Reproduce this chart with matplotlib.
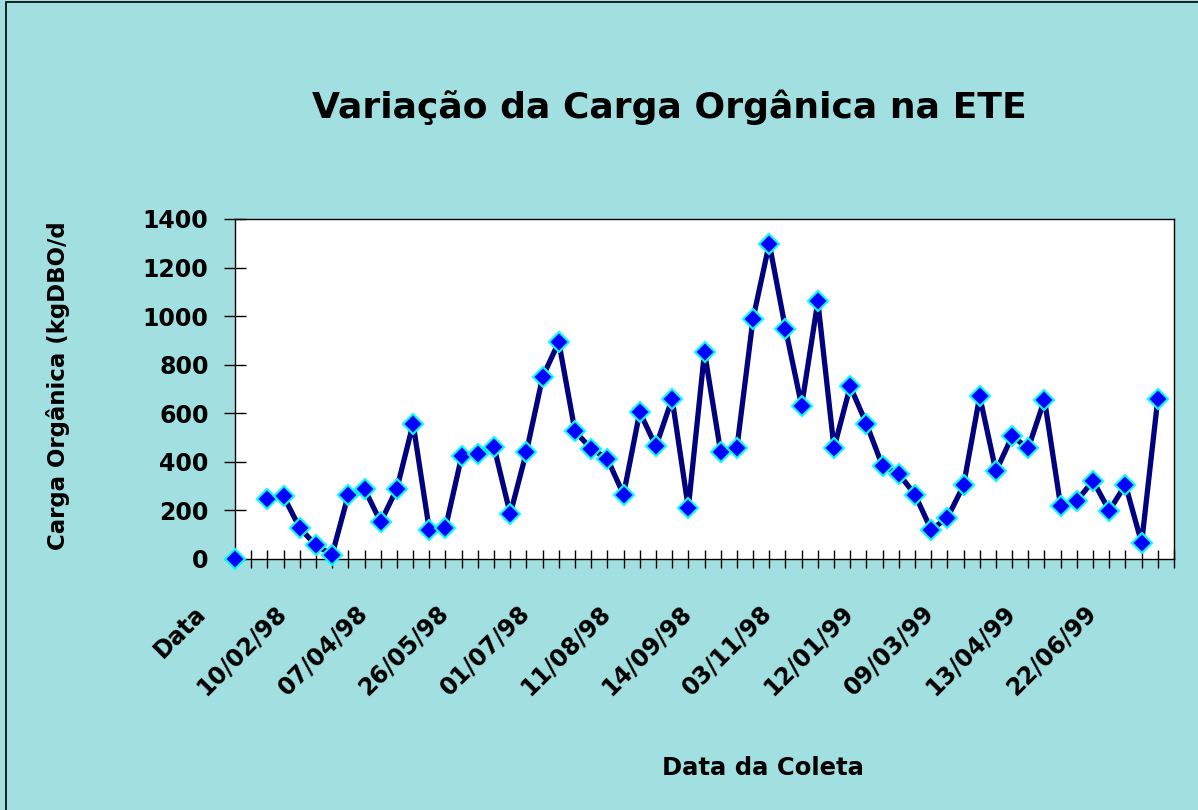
import numpy as np
import matplotlib
matplotlib.use("Agg")
import matplotlib.pyplot as plt
import matplotlib.transforms as mtransforms
from matplotlib.patches import Rectangle

# category position of each sample; slot 1 is empty, so the line breaks there
posicoes = list(range(58))
carga = [0, np.nan, 247, 258, 128, 56, 18, 265, 288, 152, 290, 557, 121, 128, 423,
         434, 461, 185, 441, 749, 894, 526, 454, 413, 265, 605, 464, 660, 210, 852,
         441, 457, 990, 1299, 949, 631, 1061, 457, 711, 557, 382, 351, 265, 121, 169,
         303, 670, 361, 505, 457, 656, 217, 240, 322, 199, 306, 66, 660]

rotulos = ['Data', '10/02/98', '07/04/98', '26/05/98', '01/07/98', '11/08/98',
           '14/09/98', '03/11/98', '12/01/99', '09/03/99', '13/04/99', '22/06/99']
n_cat = 59
passo_rotulo = 5
yticks = [0, 200, 400, 600, 800, 1000, 1200, 1400]

fundo = '#a2dfe0'
W, H = 1198, 810

fig = plt.figure(figsize=(W / 100, H / 100), dpi=100)
fig.patch.set_facecolor(fundo)
# outer frame: only left and top edges show in the original
fig.patches.append(Rectangle((6 / W, -0.1), 1.2, 1.1 - 2 / H, transform=fig.transFigure,
                             fill=False, edgecolor='black', linewidth=1.2))

ax = fig.add_axes([235 / W, 1 - 559 / H, (1174 - 235) / W, (559 - 219) / H])
ax.set_facecolor('white')

ax.plot(posicoes, carga, color='#000080', linewidth=3.8, marker='D',
        markersize=10.5, markerfacecolor='#0000ff', markeredgecolor='#00ffff',
        markeredgewidth=1.5, clip_on=False, zorder=5)

ax.set_xlim(0, n_cat - 1)
ax.set_ylim(0, 1400)

ax.set_xticks(range(n_cat))
labs = [''] * n_cat
for i, r in enumerate(rotulos):
    labs[i * passo_rotulo] = r
ax.set_xticklabels(labs, rotation=45, ha='right', va='center', rotation_mode='anchor',
                   fontsize=17, fontweight='bold')
ax.set_yticks(yticks)
ax.set_yticklabels([str(v) for v in yticks], fontsize=17, fontweight='bold')

ax.tick_params(axis='x', direction='inout', length=13, width=1, pad=14)
ax.tick_params(axis='y', direction='inout', length=16, width=1, pad=11)
for s in ax.spines.values():
    s.set_linewidth(1.0)
    s.set_color('black')

# Excel puts the slanted date labels further down-left than matplotlib does
desloc = mtransforms.ScaledTranslation(-0.33, -0.22, fig.dpi_scale_trans)
for t in ax.get_xticklabels():
    t.set_transform(t.get_transform() + desloc)

fig.text(669 / W, 1 - 118 / H, 'Variação da Carga Orgânica na ETE', ha='center',
         va='baseline', fontsize=26, fontweight='bold')
fig.text(58 / W, 1 - 386 / H, 'Carga Orgânica (kgDBO/d', rotation=90, ha='center',
         va='center', fontsize=16.5, fontweight='bold')
fig.text(763 / W, 1 - 775 / H, 'Data da Coleta', ha='center', va='baseline',
         fontsize=17.5, fontweight='bold')

fig.savefig('out.png', dpi=100, facecolor=fundo)
